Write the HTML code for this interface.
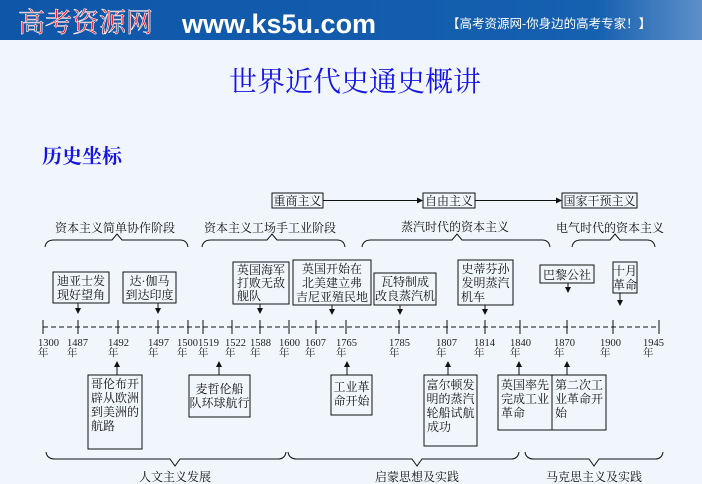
<!DOCTYPE html>
<html><head><meta charset="utf-8"><style>
html,body{margin:0;padding:0;width:702px;height:484px;overflow:hidden;background:#f1f6fc}
svg{display:block}
.t{font-family:"Liberation Serif","Noto Serif CJK SC",serif;font-size:12px;fill:#111}
.y{font-family:"Liberation Serif","Noto Serif CJK SC",serif;font-size:10.5px;fill:#222}
</style></head><body>
<svg width="702" height="484" viewBox="0 0 702 484" xmlns="http://www.w3.org/2000/svg">
<defs>
<marker id="a" markerWidth="6" markerHeight="6" refX="5" refY="3" orient="auto"><path d="M0,0 L6,3 L0,6 z" fill="#111"/></marker>
<linearGradient id="hb" x1="0" x2="1"><stop offset="0" stop-color="#0f56a8"/><stop offset="0.85" stop-color="#1660b0"/><stop offset="1" stop-color="#5e8fc8"/></linearGradient>
</defs>
<rect width="702" height="40" fill="url(#hb)"/>
<text x="18" y="32" font-family="'Noto Serif CJK SC',serif" font-size="27" fill="#e8202a" stroke="#fff" stroke-width="0.6">高考资源网</text>
<text x="182" y="33" font-family="'Liberation Sans',sans-serif" font-weight="bold" font-size="27" fill="#fff">www.ks5u.com</text>
<text x="447" y="28" font-family="'Liberation Sans','Noto Sans CJK SC',sans-serif" font-size="12.5" fill="#fff">【高考资源网-你身边的高考专家！】</text>
<text x="355" y="91" text-anchor="middle" font-family="'Liberation Serif','Noto Serif CJK SC',serif" font-size="28" fill="#1414e6">世界近代史通史概讲</text>
<text x="42" y="163" font-family="'Liberation Serif','Noto Serif CJK SC',serif" font-size="20" font-weight="bold" fill="#1414e6">历史坐标</text>

<g stroke="#111" fill="none" stroke-width="1">
<rect x="272" y="193" width="51" height="15"/>
<rect x="423" y="193" width="52" height="15"/>
<rect x="562" y="193" width="75" height="15"/>
<line x1="323" y1="200.5" x2="422" y2="200.5" marker-end="url(#a)"/>
<line x1="475" y1="200.5" x2="561" y2="200.5" marker-end="url(#a)"/>
<path d="M45 247 Q46 240 54 240 L112 240 L117 234 L122 240 L180 240 Q187 240 188 247"/>
<path d="M202 247 Q203 240 211 240 L267 240 L272 234 L277 240 L337 240 Q344 240 345 247"/>
<path d="M362 247 Q363 240 371 240 L452 240 L457 234 L462 240 L542 240 Q549 240 550 247"/>
<path d="M572 247 Q573 240 581 240 L610 240 L615 234 L620 240 L647 240 Q654 240 655 247"/>
<path d="M46 452 Q47 459 55 459 L170 459 L175 466 L180 459 L278 459 Q285 459 286 452"/>
<path d="M288 452 Q289 459 297 459 L412 459 L417 466 L422 459 L511 459 Q518 459 519 452"/>
<path d="M525 452 Q526 459 534 459 L589 459 L594 466 L599 459 L655 459 Q662 459 663 452"/>
<line x1="43" y1="327" x2="659" y2="327" stroke-dasharray="5 3"/>
<g>
<line x1="43" y1="320" x2="43" y2="334"/><line x1="78" y1="320" x2="78" y2="334"/><line x1="118" y1="320" x2="118" y2="334"/><line x1="158" y1="320" x2="158" y2="334"/><line x1="188" y1="320" x2="188" y2="334"/><line x1="203" y1="320" x2="203" y2="334"/><line x1="232" y1="320" x2="232" y2="334"/><line x1="260" y1="320" x2="260" y2="334"/><line x1="289" y1="320" x2="289" y2="334"/><line x1="316" y1="320" x2="316" y2="334"/><line x1="346" y1="320" x2="346" y2="334"/><line x1="399" y1="320" x2="399" y2="334"/><line x1="447" y1="320" x2="447" y2="334"/><line x1="485" y1="320" x2="485" y2="334"/><line x1="520" y1="320" x2="520" y2="334"/><line x1="567" y1="320" x2="567" y2="334"/><line x1="613" y1="320" x2="613" y2="334"/><line x1="659" y1="320" x2="659" y2="334"/>
</g>
<rect x="53" y="272" width="56" height="31"/><line x1="78" y1="303" x2="78" y2="313" marker-end="url(#a)"/>
<rect x="123" y="272" width="53" height="31"/><line x1="158" y1="303" x2="158" y2="313" marker-end="url(#a)"/>
<rect x="233" y="262" width="56" height="42"/><line x1="260" y1="304" x2="260" y2="313" marker-end="url(#a)"/>
<rect x="293" y="260" width="78" height="45"/><line x1="332" y1="305" x2="332" y2="314" marker-end="url(#a)"/>
<rect x="374" y="273" width="62" height="32"/><line x1="400" y1="305" x2="400" y2="314" marker-end="url(#a)"/>
<rect x="458" y="260" width="55" height="45"/><line x1="485" y1="305" x2="485" y2="314" marker-end="url(#a)"/>
<rect x="540" y="265" width="54" height="18"/><line x1="568" y1="283" x2="568" y2="292" marker-end="url(#a)"/>
<rect x="613" y="262" width="24" height="31"/><line x1="620" y1="293" x2="620" y2="305" marker-end="url(#a)"/>
<rect x="88" y="375" width="54" height="74"/><line x1="117" y1="375" x2="117" y2="362" marker-end="url(#a)"/>
<rect x="189" y="375" width="61" height="42"/><line x1="219" y1="375" x2="219" y2="362" marker-end="url(#a)"/>
<rect x="331" y="375" width="41" height="40"/><line x1="347" y1="375" x2="347" y2="362" marker-end="url(#a)"/>
<rect x="424" y="375" width="53" height="71"/><line x1="448" y1="375" x2="448" y2="362" marker-end="url(#a)"/>
<rect x="498" y="375" width="54" height="55"/><line x1="519" y1="375" x2="519" y2="362" marker-end="url(#a)"/>
<rect x="552" y="375" width="54" height="55"/><line x1="567" y1="375" x2="567" y2="362" marker-end="url(#a)"/>
</g>

<g class="t">
<text x="297.5" y="205" text-anchor="middle">重商主义</text>
<text x="449" y="205" text-anchor="middle">自由主义</text>
<text x="599.5" y="205" text-anchor="middle">国家干预主义</text>
<text x="115" y="232" text-anchor="middle">资本主义简单协作阶段</text>
<text x="270" y="232" text-anchor="middle">资本主义工场手工业阶段</text>
<text x="455" y="231" text-anchor="middle">蒸汽时代的资本主义</text>
<text x="610" y="232" text-anchor="middle">电气时代的资本主义</text>
<text x="175" y="481" text-anchor="middle">人文主义发展</text>
<text x="417" y="481" text-anchor="middle">启蒙思想及实践</text>
<text x="594" y="481" text-anchor="middle">马克思主义及实践</text>

<text x="81" y="285" text-anchor="middle"><tspan x="81">迪亚士发</tspan><tspan x="81" dy="14">现好望角</tspan></text>
<text x="149.5" y="285" text-anchor="middle"><tspan x="149.5">达·伽马</tspan><tspan x="149.5" dy="14">到达印度</tspan></text>
<text x="261" y="274" text-anchor="middle"><tspan x="261">英国海军</tspan><tspan x="261" dy="13">打败无敌</tspan></text>
<text x="237" y="300">舰队</text>
<text x="332" y="273" text-anchor="middle"><tspan x="332">英国开始在</tspan><tspan x="332" dy="14">北美建立弗</tspan><tspan x="332" dy="14">吉尼亚殖民地</tspan></text>
<text x="405" y="286" text-anchor="middle"><tspan x="405">瓦特制成</tspan><tspan x="405" dy="14">改良蒸汽机</tspan></text>
<text x="485.5" y="273" text-anchor="middle"><tspan x="485.5">史蒂芬孙</tspan><tspan x="485.5" dy="14">发明蒸汽</tspan></text>
<text x="461" y="301">机车</text>
<text x="567" y="279" text-anchor="middle">巴黎公社</text>
<text x="625" y="275" text-anchor="middle"><tspan x="625">十月</tspan><tspan x="625" dy="14">革命</tspan></text>

<text x="115" y="388" text-anchor="middle"><tspan x="115">哥伦布开</tspan><tspan x="115" dy="14">辟从欧洲</tspan><tspan x="115" dy="14">到美洲的</tspan></text>
<text x="91" y="430">航路</text>
<text x="219.5" y="393" text-anchor="middle"><tspan x="219.5">麦哲伦船</tspan><tspan x="219.5" dy="14">队环球航行</tspan></text>
<text x="351.5" y="391" text-anchor="middle"><tspan x="351.5">工业革</tspan><tspan x="351.5" dy="14">命开始</tspan></text>
<text x="450.5" y="389" text-anchor="middle"><tspan x="450.5">富尔顿发</tspan><tspan x="450.5" dy="14">明的蒸汽</tspan><tspan x="450.5" dy="14">轮船试航</tspan></text>
<text x="427" y="431">成功</text>
<text x="525" y="389" text-anchor="middle"><tspan x="525">英国率先</tspan><tspan x="525" dy="14">完成工业</tspan></text>
<text x="501" y="417">革命</text>
<text x="579" y="389" text-anchor="middle"><tspan x="579">第二次工</tspan><tspan x="579" dy="14">业革命开</tspan></text>
<text x="555" y="417">始</text>
</g>

<g class="y">
<text x="38" y="346">1300</text><text x="38" y="356">年</text>
<text x="67" y="346">1487</text><text x="67" y="356">年</text>
<text x="108" y="346">1492</text><text x="108" y="356">年</text>
<text x="148" y="346">1497</text><text x="148" y="356">年</text>
<text x="177" y="346">1500</text><text x="177" y="356">年</text>
<text x="198" y="346">1519</text><text x="198" y="356">年</text>
<text x="225" y="346">1522</text><text x="225" y="356">年</text>
<text x="250" y="346">1588</text><text x="250" y="356">年</text>
<text x="279" y="346">1600</text><text x="279" y="356">年</text>
<text x="305" y="346">1607</text><text x="305" y="356">年</text>
<text x="336" y="346">1765</text><text x="336" y="356">年</text>
<text x="389" y="346">1785</text><text x="389" y="356">年</text>
<text x="436" y="346">1807</text><text x="436" y="356">年</text>
<text x="474" y="346">1814</text><text x="474" y="356">年</text>
<text x="510" y="346">1840</text><text x="510" y="356">年</text>
<text x="554" y="346">1870</text><text x="554" y="356">年</text>
<text x="600" y="346">1900</text><text x="600" y="356">年</text>
<text x="643" y="346">1945</text><text x="643" y="356">年</text>
</g>
</svg>
</body></html>
